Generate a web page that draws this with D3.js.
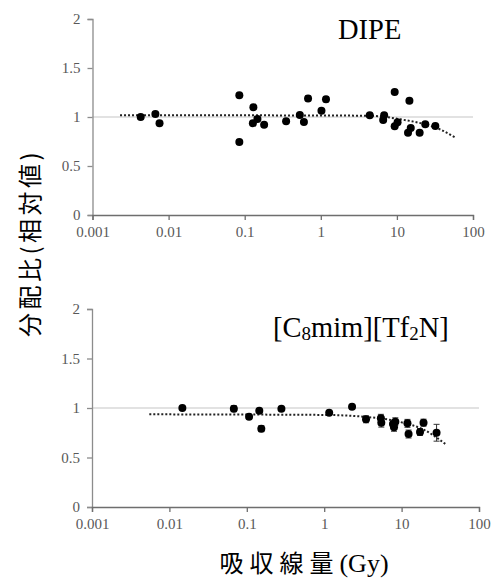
<!DOCTYPE html>
<html><head><meta charset="utf-8">
<script src="https://cdn.jsdelivr.net/npm/d3@7"></script>
<style>body{margin:0;background:#fff}svg{display:block}</style>
</head><body>
<script>
// ---- data ----
const xTicks = [0.001, 0.01, 0.1, 1, 10, 100];
const yTicks = [0, 0.5, 1, 1.5, 2];

// DIPE panel
const dipeX = [0.0043,0.0067,0.0076,0.085,0.085,0.130,0.128,0.147,0.18,0.35,0.53,0.60,0.68,1.02,1.17,4.4,6.8,6.6,9.35,9.35,10.2,14.6,15.2,14.0,19.9,23.6,32];
const dipeY = [1.00,1.03,0.936,1.221,0.745,1.099,0.936,0.98,0.92,0.956,1.02,0.949,1.19,1.064,1.18,1.017,1.017,0.969,1.255,0.905,0.946,1.166,0.888,0.84,0.84,0.925,0.908];
const dipeErr = [0.02,0.02,0.015,0.015,0.015,0.015,0.015,0.015,0.015,0.015,0.015,0.015,0.025,0.015,0.025,0.015,0.015,0.015,0.015,0.015,0.015,0.015,0.015,0.015,0.015,0.015,0.015];
const dipeTrendX = [0.0023, 0.1, 1, 4.4, 11, 23.4, 36.8, 58];
const dipeTrendY = [1.017, 1.017, 1.015, 1.013, 0.977, 0.925, 0.874, 0.793];

// [C8mim][Tf2N] panel
const ilX = [0.0147,0.068,0.107,0.145,0.154,0.28,1.16,2.29,3.47,5.4,5.47,7.74,8.3,7.98,11.9,12.3,17.3,19.2,28.3];
const ilY = [1.0,0.993,0.912,0.973,0.791,0.993,0.953,1.013,0.886,0.896,0.852,0.838,0.861,0.805,0.845,0.737,0.758,0.852,0.75];
const ilErr = [0.01,0.03,0.02,0.015,0.03,0.01,0.01,0.01,0.035,0.04,0.045,0.04,0.04,0.04,0.04,0.04,0.035,0.035,0.085];
const ilTrendX = [0.0055, 1, 3.5, 10, 20, 33.5, 38.3];
const ilTrendY = [0.936, 0.93, 0.91, 0.855, 0.775, 0.66, 0.626];

const panels = [
  {title:"DIPE", xs:dipeX, ys:dipeY, es:dipeErr, tx:dipeTrendX, ty:dipeTrendY,
   xr:[92.5,473], yr:[215,19]},
  {title:"IL", xs:ilX, ys:ilY, es:ilErr, tx:ilTrendX, ty:ilTrendY,
   xr:[92,479], yr:[507,309]}
];

const W = 493, H = 578;
const svg = d3.select("body").append("svg").attr("width", W).attr("height", H);
const serif = "'Liberation Serif','Times New Roman',serif";
const cjk = "'Noto Sans CJK JP','Noto Sans CJK SC',sans-serif";

panels.forEach((p, i) => {
  const x = d3.scaleLog().domain([0.001, 100]).range(p.xr);
  const y = d3.scaleLinear().domain([0, 2]).range(p.yr);
  const g = svg.append("g");

  // reference line at 1
  g.append("line").attr("x1", p.xr[0]).attr("x2", p.xr[1])
    .attr("y1", y(1)).attr("y2", y(1))
    .attr("stroke", "#d9d9d9").attr("stroke-width", 1.5);

  // y axis
  const ya = g.append("g").attr("transform", `translate(${p.xr[0]},0)`)
    .call(d3.axisLeft(y).tickValues(yTicks).tickSize(5).tickPadding(7).tickFormat(d3.format("")));
  ya.select(".domain").attr("stroke", "#8c8c8c").attr("stroke-width", 1.3);
  ya.selectAll(".tick line").attr("stroke", "#8c8c8c").attr("stroke-width", 1.3);
  ya.selectAll("text").attr("fill", "#595959").style("font-family", serif).style("font-size", "15px");

  // x axis
  const xa = g.append("g").attr("transform", `translate(0,${p.yr[0]})`)
    .call(d3.axisBottom(x).tickValues(xTicks).tickSize(5).tickPadding(6).tickFormat(d => String(d)));
  xa.select(".domain").attr("stroke", "#6e6e6e").attr("stroke-width", 1.3);
  xa.selectAll(".tick line").attr("stroke", "#6e6e6e").attr("stroke-width", 1.3);
  xa.selectAll("text").attr("fill", "#595959").style("font-family", serif).style("font-size", "15px");

  // trend line (dotted)
  const trend = p.tx.map((v, k) => [v, p.ty[k]]);
  g.append("path").datum(trend)
    .attr("d", d3.line().x(d => x(d[0])).y(d => y(d[1])).curve(d3.curveMonotoneX))
    .attr("fill", "none").attr("stroke", "#222").attr("stroke-width", 2)
    .attr("stroke-dasharray", "2,2");

  // error bars
  const pts = p.xs.map((v, k) => ({x: v, y: p.ys[k], e: p.es[k]}));
  const eb = g.append("g").attr("stroke", "#333").attr("stroke-width", 1);
  pts.forEach(d => {
    const cx = x(d.x);
    eb.append("line").attr("x1", cx).attr("x2", cx).attr("y1", y(d.y - d.e)).attr("y2", y(d.y + d.e));
    eb.append("line").attr("x1", cx - 3).attr("x2", cx + 3).attr("y1", y(d.y - d.e)).attr("y2", y(d.y - d.e));
    eb.append("line").attr("x1", cx - 3).attr("x2", cx + 3).attr("y1", y(d.y + d.e)).attr("y2", y(d.y + d.e));
  });

  // markers
  g.selectAll("circle.pt").data(pts).enter().append("circle")
    .attr("cx", d => x(d.x)).attr("cy", d => y(d.y)).attr("r", 4).attr("fill", "#000");

  // titles
  if (i === 0) {
    g.append("text").attr("x", 338).attr("y", 39).text("DIPE")
      .style("font-family", serif).style("font-size", "28.5px").attr("fill", "#000");
  } else {
    const t = g.append("text").attr("x", 273).attr("y", 337)
      .style("font-family", serif).style("font-size", "28.5px").attr("fill", "#000");
    t.append("tspan").text("[C");
    t.append("tspan").text("8").style("font-size", "19px").attr("dy", 3);
    t.append("tspan").text("mim][Tf").attr("dy", -3);
    t.append("tspan").text("2").style("font-size", "19px").attr("dy", 3);
    t.append("tspan").text("N]").attr("dy", -3);
  }
});

// axis titles
svg.append("text").attr("transform", "translate(39,243) rotate(-90)")
  .attr("text-anchor", "middle").style("font-family", cjk).style("font-size", "24px")
  .style("letter-spacing", "3.5px")
  .attr("fill", "#000").text("分配比(相対値)");
svg.append("text").attr("x", 304).attr("y", 572).attr("text-anchor", "middle")
  .style("font-family", cjk).style("font-size", "24px").attr("fill", "#000")
  .selectAll("tspan").data([["吸収線量", cjk, "6px"], ["(Gy)", serif, "0px"]]).enter().append("tspan")
  .style("font-family", d => d[1]).style("font-size", (d, k) => k ? "26px" : "24px")
  .style("letter-spacing", d => d[2]).text(d => d[0]);
</script>
</body></html>
